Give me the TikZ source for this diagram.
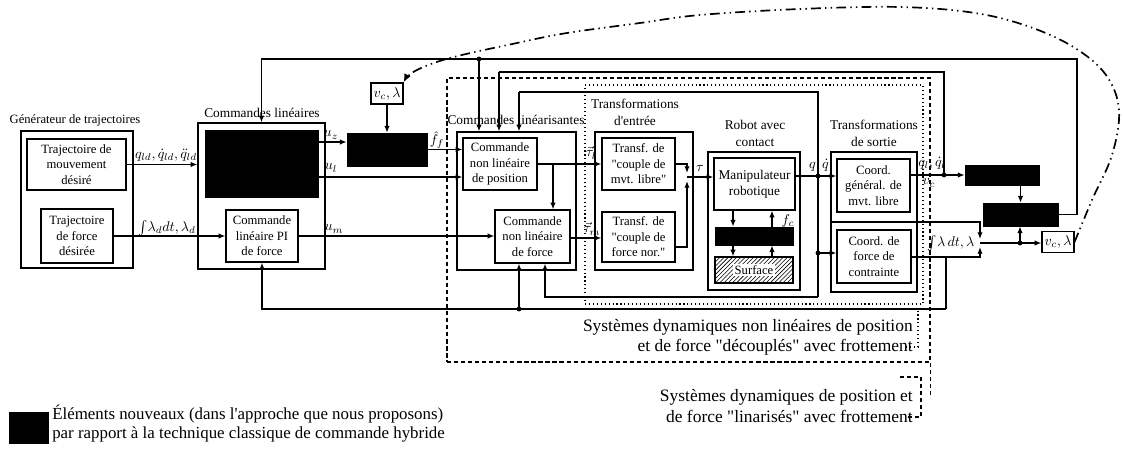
\documentclass[tikz,border=0pt]{standalone}
\usepackage{fontspec}
\setmainfont{Liberation Serif}[Ligatures=TeXOff]
\usetikzlibrary{arrows.meta,patterns,calc}
\begin{document}
\begin{tikzpicture}[x=0.25mm,y=-0.25mm,
 sz/.style 2 args={minimum width=#1*0.25mm, minimum height=#2*0.25mm},
 bx/.style={draw, line width=0.8pt, inner sep=0pt, align=center, font=\fontsize{9}{11}\selectfont},
 grp/.style={draw, line width=0.8pt, inner sep=0pt},
 blk/.style={draw, fill=black, inner sep=0pt},
 glbl/.style={inner sep=0pt, align=center, font=\fontsize{9.5}{12}\selectfont},
 ml/.style={inner sep=0pt, font=\fontsize{10}{12}\selectfont},
 ln/.style={line width=0.9pt},
 arr/.style={line width=0.9pt, -{Latex[length=4.8pt,width=3.8pt]}},
 jd/.style={circle, fill, inner sep=0pt, minimum size=3.5pt},
 biglbl/.style={inner sep=0pt, align=right, font=\fontsize{12.4}{14.3}\selectfont},
 dd/.style={line width=1.2pt, dash pattern=on 7pt off 3pt on 1pt off 3pt on 1pt off 3pt},
 dsh/.style={line width=0.8pt, dash pattern=on 3pt off 2pt},
]
\useasboundingbox (0,0) rectangle (1124,450);

% regions
\node[draw, dsh, sz={483}{284}, inner sep=0pt] (reg1) at (688.5,220) {};
\node[draw, line width=0.8pt, dotted, sz={338}{219}, inner sep=0pt] (reg2) at (754,194.5) {};

% left
\node[glbl, font=\fontsize{9}{11}\selectfont] (genl) at (75,120) {Générateur de trajectoires};
\node[grp, sz={112}{137}] (gen) at (77,199.5) {};
\node[bx, sz={99}{51}] (tmd) at (76.5,164.5) {Trajectoire de\\mouvement\\désiré};
\node[bx, sz={72}{54}] (tfd) at (77,236) {Trajectoire\\de force\\désirée};

\node[glbl] (cll) at (262,113) {Commandes linéaires};
\node[grp, sz={127}{146}] (clb) at (261.5,196) {};
\node[blk, sz={113}{67}] (B1) at (261.5,163.5) {};
\node[bx, sz={72}{52}] (pi) at (262,236) {Commande\\linéaire PI\\de force};

\node[bx, sz={32}{21}, font=\fontsize{10}{12}\selectfont] (vc1) at (387,93.5) {$v_c,\lambda$};
\node[blk, sz={80}{33}] (B2) at (387,149.5) {};

\node[glbl] (linl) at (516,120) {Commandes linéarisantes};
\node[grp, sz={119}{138}] (lin) at (516.5,201) {};
\node[bx, sz={74}{52}] (pos) at (500,164) {Commande\\non linéaire\\de position};
\node[bx, sz={75}{53}] (frc) at (532.5,236.5) {Commande\\non linéaire\\de force};

\node[glbl] (tel) at (635,112) {Transformations\\d'entrée};
\node[grp, sz={98}{138}] (te) at (644,201) {};
\node[bx, sz={73}{52}] (t1) at (638.5,164) {Transf. de\\"couple de\\mvt. libre"};
\node[bx, sz={73}{50}] (t2) at (638.5,237) {Transf. de\\"couple de\\force nor."};

\node[glbl] (rol) at (755,133) {Robot avec\\contact};
\node[grp, sz={92}{138}] (ro) at (754,221) {};
\node[bx, sz={81}{52}, font=\fontsize{9.5}{11.5}\selectfont] (man) at (754.5,184) {Manipulateur\\robotique};
\node[blk, sz={78}{18}] (B5) at (754,236) {};
\node[draw, line width=0.8pt, pattern=north east lines, sz={78}{26}, inner sep=0pt] (sur) at (754,270) {};
\node[fill=white, inner sep=1pt, font=\fontsize{9}{11}\selectfont] (surl) at (sur) {Surface};

\node[glbl] (tsl) at (874,133) {Transformations\\de sortie};
\node[grp, sz={86}{140}] (ts) at (874,222) {};
\node[bx, sz={73}{53}] (cg) at (873.5,185.5) {Coord.\\général. de\\mvt. libre};
\node[bx, sz={74}{53}] (cf) at (874,256.5) {Coord. de\\force de\\contrainte};

\node[blk, sz={74}{20}] (B3) at (1002,175) {};
\node[blk, sz={75}{23}] (B4) at (1020.5,214.5) {};
\node[bx, sz={32}{21}, font=\fontsize{10}{12}\selectfont] (vc2) at (1058,242) {$v_c,\lambda$};

% labels
\node[ml] (lq) at (166,155) {$q_{ld},\dot q_{ld},\ddot q_{ld}$};
\node[ml] (ll) at (167,228) {$\int\!\lambda_d dt,\lambda_d$};
\node[ml] (luz) at (331,135) {$u_z$};
\node[ml] (lul) at (331,168) {$u_l$};
\node[ml] (lum) at (334,229) {$u_m$};
\node[ml] (lff) at (437,140) {$\hat f_f$};
\node[ml] (ltl) at (591,153) {$\vec\tau_l$};
\node[ml] (ltm) at (592,229) {$\vec\tau_m$};
\node[ml] (ltau) at (700,168) {$\tau$};
\node[ml] (lfc) at (788,221) {$f_c$};
\node[ml] (lqq) at (819,165) {$q,\dot q$};
\node[ml] (lql) at (932,163) {$q_l,\dot q_l$};
\node[ml] (lvc) at (929,183) {$v_c$};
\node[ml] (lint) at (951,243) {$\int\!\lambda\,dt,\lambda$};

% connectors
\draw[arr] (tmd.east) -- (tmd.east -| clb.west);
\draw[arr] (tfd.east) -- (pi.west);
\draw[arr] (B1.east |- 0,142) -- (B2.west |- 0,142);
\draw[arr] (B1.east |- 0,177) -- (pos.west |- 0,177);
\draw[arr] (pi.east) -- (pi.east -| frc.west);
\draw[arr] (vc1.south) -- (B2.north);
\draw[arr] (B2.east) -- (B2.east -| pos.west);
\draw[arr] (pos.east) -- (pos.east -| t1.west);
\coordinate (pj) at (553,164);
\draw[arr] (pj) -- (pj |- frc.north);
\draw[arr] (frc.east |- 0,238) -- (t2.west |- 0,238);
\coordinate (J) at (687,177);
\draw[arr] (t1.east) -| ($(J)+(0,-4)$);
\draw[arr] (t2.east |- 0,247) -| ($(J)+(0,4)$);
\draw[arr] (J) -- (J -| man.west);
\draw[arr] (man.south -| 733,0) -- (B5.north -| 733,0);
\draw[arr] (B5.north -| 772,0) -- (man.south -| 772,0);
\draw[arr] (B5.south -| 733,0) -- (sur.north -| 733,0);
\draw[arr] (sur.north -| 772,0) -- (B5.south -| 772,0);
\draw[arr] (man.east |- 0,176) -- (cg.west |- 0,176);
\coordinate (r1) at (818,176); \node[jd] (d1) at (r1) {};
\coordinate (r2) at (818,253); \node[jd] (d2) at (r2) {};
\draw[arr] (r2) -- (r2 -| cf.west);
\coordinate (r0) at (818,92);
\coordinate (r3) at (818,297);
\coordinate (l3) at (519,92);
\draw[ln] (r3) -- (r0) -- (l3);
\draw[arr] (l3) -- (l3 |- lin.north);
\coordinate (l4) at (545,297);
\draw[arr] (r3) -- (l4) -- (l4 |- frc.south);
\draw[arr] (cg.east |- B3.west) -- (B3.west);
\coordinate (s1) at (944,175); \node[jd] (d3) at (s1) {};
\coordinate (s2) at (499,72);
\draw[ln] (s1) |- (s2);
\draw[arr] (s2) -- (s2 |- lin.north);
\draw[arr] (B3.south -| B4.north) -- (B4.north);
\coordinate (f1) at (1077,59);
\draw[arr] (B4.east) -| (f1) -| (clb.north);
\coordinate (f2) at (479,59); \node[jd] (d4) at (f2) {};
\draw[arr] (f2) -- (f2 |- lin.north);
\coordinate (g1) at (946,257);
\coordinate (g2) at (946,309);
\draw[ln] (cf.east |- g1) -- (g1) -- (g2);
\draw[arr] (g2) -| (pi.south);
\coordinate (g3) at (519,309); \node[jd] (d5) at (g3) {};
\draw[arr] (g3) -- (g3 |- frc.south);
\coordinate (J2) at (980,243);
\draw[arr] (g1) -| ($(J2)+(0,4)$);
\coordinate (h1) at (831,222);
\draw[arr] (h1) -| ($(J2)+(0,-4)$);
\draw[arr] (J2) -- (J2 -| vc2.west);
\coordinate (J3) at (1020,243); \node[jd] (d6) at (J3) {};
\draw[arr] (J3) -- (J3 |- B4.south);

% dash-dot feedback
\draw[dd, -{Latex[length=6pt,width=5pt]}] plot[smooth, tension=0.6] coordinates {(vc2.east) (1092,200) (1112,155) (1119,110) (1106,75) (1075,48) (1030,27) (975,13) (900,7) (800,9) (700,15) (640,23) (567,33) (517,43) (450,58) (415,71) (vc1.north east)};

% big labels
\node[biglbl, anchor=east] (lab1) at (913,337) {Systèmes dynamiques non linéaires de position\\et de force "découplés" avec frottement};
\node[biglbl, anchor=east] (lab2) at (913,406) {Systèmes dynamiques de position et\\de force "linarisés" avec frottement};
\draw[line width=0.8pt, dotted] (892,309) -- (918,309) -- (918,347) -- (905,347);
\draw[dsh] (reg1.south east) -- ++(0,32);
\draw[dsh] (900,377) -- (921,377) -- (921,417) -- (908,417);

% legend
\node[blk, sz={39}{31}] (lg) at (28.5,427.5) {};
\node[inner sep=0pt, anchor=west, align=left, font=\fontsize{12}{13.5}\selectfont] (lgt) at (52,424) {Éléments nouveaux (dans l'approche que nous proposons)\\par rapport à la technique classique de commande hybride};
\end{tikzpicture}
\end{document}
